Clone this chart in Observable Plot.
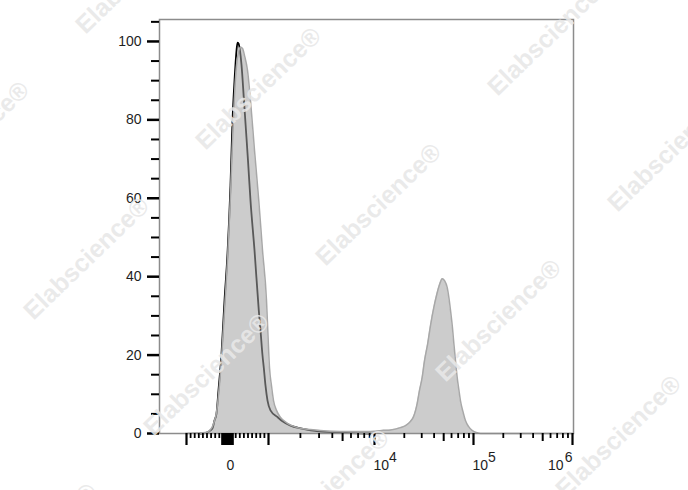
<!DOCTYPE html>
<html>
<head>
<meta charset="utf-8">
<script src="https://cdn.jsdelivr.net/npm/d3@7"></script>
<script src="https://cdn.jsdelivr.net/npm/@observablehq/plot@0.6"></script>
<style>
  html, body { margin: 0; padding: 0; background: #fff; }
  #chart svg { display: block; }
</style>
</head>
<body>
<div id="chart"></div>
<script>
// ---- data (fluorescence intensity, % of max) ----
const controlX = [-659, -537, -488, -415, -366, -317, -268, -220, -146, -73, 0, 73, 122, 171, 220, 244,
  268, 341, 402, 451, 500, 561, 659, 763, 805, 854, 885, 927, 976, 1044, 1216, 1355, 1612, 2003, 2490, 3096, 4285, 5941, 9157];
const controlY = [0, 0.1, 0.3, 0.8, 1.3, 3.3, 5.1, 11, 20.4, 33.9, 45.9, 63.3, 79.8, 90, 97.7, 99.7,
  99.5, 94.1, 84.9, 77.3, 69.6, 59.4, 46.7, 31.4, 26.3, 19.9, 16.8, 12.2, 8.4, 5.9, 4.2, 3.1, 2.0, 1.3, 0.8, 0.5, 0.3, 0.1, 0];

const sampleX = [-1024, -780, -537, -463, -415, -366, -317, -268, -220, -146, -73, 0, 73, 122, 171, 220, 268, 317, 366,
  415, 488, 561, 659, 763, 854, 951, 988, 1022, 1067, 1115, 1190, 1299, 1510, 1877, 2490, 3844, 5941, 8224, 10236,
  12330, 14510, 18310, 20570, 23110, 24790, 27000, 28470, 30300, 32000, 34500, 36800, 39700, 42300, 45400, 48300,
  51000, 54300, 56600, 58600, 61400, 63300, 65800, 68400, 71300, 73800, 78200, 82900, 89000, 96700, 107000, 118000, 1000000];
const sampleY = [0, 0.1, 0.25, 0.5, 1.0, 1.8, 3.3, 5.4, 9.7, 19.1, 31.4, 44.1, 60.7, 74.7, 86.2, 93.9, 97.2, 98.5, 98.2,
  96.4, 92.6, 84.9, 72.2, 59.4, 46.7, 34, 25, 16.8, 12.2, 8.4, 5.9, 4.1, 2.6, 1.5, 1.0, 0.6, 0.5, 0.5, 0.6,
  0.8, 0.9, 1.5, 2.0, 3.1, 4.3, 7.7, 11, 14.3, 18.6, 23, 27.6, 32.1, 35.2, 38, 39.5,
  39, 37.2, 34.4, 31.4, 26.8, 23, 18.6, 14.3, 11, 8.4, 5.6, 3.3, 1.8, 0.8, 0.25, 0, 0];

const yMajorTicks = [0, 20, 40, 60, 80, 100];
const yMinorTicks = [5, 10, 15, 25, 30, 35, 45, 50, 55, 65, 70, 75, 85, 90, 95, 105];

const xMajorTicks = [-1000, 0, 1000, 1e4, 1e5, 1e6];
const xBlockTicks = [-130, -110, -90, -70, -50, -30, -10, 10, 30, 50, 70, 90, 110, 130];
const xMediumTicks = [5e3, 5e4, 5e5];
const xMinorTicks = [-900, -800, -700, -600, -500, -400, -300, -200, 200, 300, 400, 500, 600, 700, 800, 900,
  2e3, 3e3, 4e3, 6e3, 7e3, 8e3, 9e3, 2e4, 3e4, 4e4, 6e4, 7e4, 8e4, 9e4, 2e5, 3e5, 4e5, 6e5, 7e5, 8e5, 9e5];

const xLabelValues = [0, 1e4, 1e5, 1e6];
const xLabelBases = ["0", "10", "10", "10"];
const xLabelExps = ["", "4", "5", "6"];

const watermarkText = "Elabscience®";

// ---- biexponential-like display transform ----
function T(v) {
  const a = Math.abs(v);
  let t;
  if (a <= 1000) t = 41 * a / 1000;
  else if (a <= 1e4) t = 41 + 106 * Math.log10(a / 1000);
  else t = 147 + 99 * Math.log10(a / 1e4);
  return v < 0 ? -t : t;
}

const control = controlX.map((v, i) => ({v, y: controlY[i]}));
const sample = sampleX.map((v, i) => ({v, y: sampleY[i]}));
const labels = xLabelValues.map((v, i) => ({v, base: xLabelBases[i], exp: xLabelExps[i]}));
const labelsLeft = labels.filter(d => d.v < 1e6);
const labelsRight = labels.filter(d => d.v >= 1e6);

const tickOpts = {tickFormat: () => "", stroke: "#000", label: null};

const chart = Plot.plot({
  width: 688,
  height: 490,
  marginLeft: 159,
  marginRight: 115,
  marginTop: 19,
  marginBottom: 57,
  x: {domain: [-68, 346], axis: null},
  y: {domain: [0, 105.6], axis: null},
  style: {fontFamily: "'Liberation Sans', Arial, sans-serif", fontSize: "14px", color: "#1e1e1e", background: "#fff"},
  marks: [
    Plot.lineY(control, {x: d => T(d.v), y: "y", stroke: "#000", strokeWidth: 1.8, curve: "monotone-x"}),
    Plot.areaY(sample, {x: d => T(d.v), y: "y", fill: "#a3a3a3", fillOpacity: 0.55, curve: "monotone-x"}),
    Plot.lineY(sample, {x: d => T(d.v), y: "y", stroke: "#a8a8a8", strokeWidth: 1.5, curve: "monotone-x"}),
    Plot.frame({stroke: "#8c8c8c", strokeWidth: 1.5}),
    Plot.axisY({ticks: yMajorTicks, tickSize: 12, tickPadding: 6, stroke: "#000", strokeWidth: 2.5, fontSize: 14, label: null}),
    Plot.axisY({ticks: yMinorTicks, tickSize: 8, strokeWidth: 2, ...tickOpts}),
    Plot.axisX({ticks: xMajorTicks.map(T), tickSize: 12, strokeWidth: 2.2, ...tickOpts}),
    Plot.axisX({ticks: xBlockTicks.map(T), tickSize: 12, strokeWidth: 2, ...tickOpts}),
    Plot.axisX({ticks: xMediumTicks.map(T), tickSize: 8, strokeWidth: 2, ...tickOpts}),
    Plot.axisX({ticks: xMinorTicks.map(T), tickSize: 5, strokeWidth: 1.8, ...tickOpts}),
    Plot.text(labelsLeft, {x: d => T(d.v), text: "base", frameAnchor: "bottom", textAnchor: "start", lineAnchor: "top", dx: -1, dy: 27, fontSize: 14}),
    Plot.text(labelsLeft, {x: d => T(d.v), text: "exp", frameAnchor: "bottom", textAnchor: "start", lineAnchor: "top", dx: 14.5, dy: 19, fontSize: 14}),
    Plot.text(labelsRight, {x: d => T(d.v), text: "base", frameAnchor: "bottom", textAnchor: "end", lineAnchor: "top", dx: -9, dy: 27, fontSize: 14}),
    Plot.text(labelsRight, {x: d => T(d.v), text: "exp", frameAnchor: "bottom", textAnchor: "end", lineAnchor: "top", dx: 0, dy: 19, fontSize: 14})
  ]
});
document.getElementById("chart").appendChild(chart);

// ---- watermark (decoration) ----
const ns = "http://www.w3.org/2000/svg";
const wm = document.createElementNS(ns, "g");
wm.setAttribute("font-family", "'Liberation Sans', Arial, sans-serif");
wm.setAttribute("font-weight", "bold");
wm.setAttribute("font-size", "25");
wm.setAttribute("fill", "#e8e8e8");
wm.setAttribute("fill-opacity", "0.9");
wm.setAttribute("text-anchor", "middle");
const a = [120, 116], b = [172, -170], o = [258, 88];
for (let i = -2; i <= 4; i++) {
  for (let j = -2; j <= 2; j++) {
    const cx = o[0] + i * a[0] + j * b[0];
    const cy = o[1] + i * a[1] + j * b[1];
    if (cx < -120 || cx > 810 || cy < -120 || cy > 610) continue;
    const t = document.createElementNS(ns, "text");
    t.setAttribute("transform", `translate(${cx},${cy}) rotate(-44)`);
    t.setAttribute("dy", "0.35em");
    t.textContent = watermarkText;
    wm.appendChild(t);
  }
}
chart.appendChild(wm);
</script>
</body>
</html>
